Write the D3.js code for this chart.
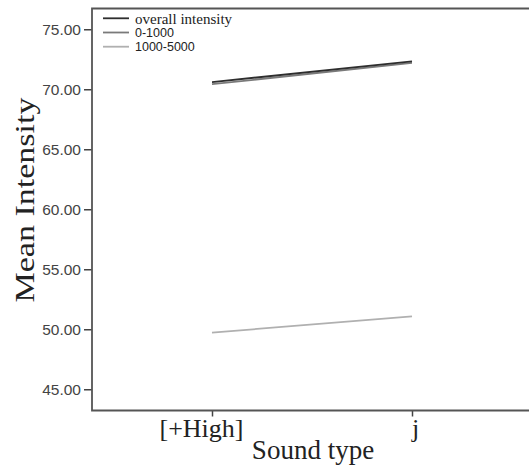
<!DOCTYPE html>
<html>
<head>
<meta charset="utf-8">
<script src="https://cdn.jsdelivr.net/npm/d3@7"></script>
<style>
  body { margin: 0; background: #fff; }
</style>
</head>
<body>
<div id="chart"></div>
<script>
// data
const soundTypes = ["[+High]", "j"];
const seriesNames = ["overall intensity", "0-1000", "1000-5000"];
const overallIntensity = [70.6, 72.32];
const band0to1000 = [70.42, 72.19];
const band1000to5000 = [49.72, 51.08];
const yTicks = [45, 50, 55, 60, 65, 70, 75];

function renderChart() {
  const width = 530, height = 467;
  const left = 92, top = 8.5, right = 529, bottom = 410.5;

  const svg = d3.select("#chart")
    .append("svg")
    .attr("width", width)
    .attr("height", height);

  // scales
  const x = d3.scalePoint()
    .domain(soundTypes)
    .range([212, 412]);

  const y = d3.scaleLinear()
    .domain([43.23, 76.73])
    .range([bottom, top]);

  const series = [
    { name: seriesNames[0], values: overallIntensity, color: "#2e2e2e", font: "Liberation Serif", size: 15 },
    { name: seriesNames[1], values: band0to1000, color: "#7a7a7a", font: "Liberation Sans", size: 12.5 },
    { name: seriesNames[2], values: band1000to5000, color: "#b0b0b0", font: "Liberation Sans", size: 12.5 }
  ];

  // lines (draw lighter first so dark sits on top)
  const line = d3.line()
    .x((d, i) => x(soundTypes[i]))
    .y(d => y(d));

  svg.selectAll(".series")
    .data(series.slice().reverse())
    .enter().append("path")
    .attr("class", "series")
    .attr("d", d => line(d.values))
    .attr("fill", "none")
    .attr("stroke", d => d.color)
    .attr("stroke-width", 1.8);

  // y axis
  const yAxis = svg.append("g")
    .attr("transform", `translate(${left}, 0)`)
    .call(d3.axisLeft(y).tickValues(yTicks).tickFormat(d3.format(".2f")).tickSize(8).tickPadding(3));
  yAxis.select(".domain").remove();
  yAxis.selectAll(".tick line").attr("stroke", "#444").attr("stroke-width", 1.5);
  yAxis.selectAll("text")
    .style("font-family", "Liberation Sans, Arial, sans-serif")
    .style("font-size", "15.5px")
    .attr("fill", "#444");

  // x axis
  const xAxis = svg.append("g")
    .attr("transform", `translate(0, ${bottom})`)
    .call(d3.axisBottom(x).tickSize(6).tickPadding(2));
  xAxis.select(".domain").remove();
  xAxis.selectAll(".tick line").attr("stroke", "#444").attr("stroke-width", 1.5);
  xAxis.selectAll("text")
    .attr("dx", (d, i) => i === 0 ? -11 : 3)
    .style("font-family", "Liberation Serif, Times New Roman, serif")
    .style("font-size", "26px")
    .attr("fill", "#222");

  // frame
  svg.append("path")
    .attr("d", `M${right},${top}H${left}V${bottom}H${right}`)
    .attr("fill", "none")
    .attr("stroke", "#555")
    .attr("stroke-width", 1.8);

  // legend
  const legend = svg.selectAll(".legend")
    .data(series)
    .enter().append("g")
    .attr("class", "legend")
    .attr("transform", (d, i) => `translate(103, ${18.3 + i * 14.2})`);

  legend.append("line")
    .attr("x1", 0).attr("x2", 26)
    .attr("stroke", d => d.color)
    .attr("stroke-width", 1.8);

  legend.append("text")
    .attr("x", 32)
    .attr("dy", "0.35em")
    .style("font-family", d => d.font)
    .style("font-size", d => d.size + "px")
    .attr("fill", "#222")
    .text(d => d.name);

  // axis titles
  svg.append("text")
    .attr("x", 313)
    .attr("y", 459)
    .attr("text-anchor", "middle")
    .style("font-family", "Liberation Serif, Times New Roman, serif")
    .style("font-size", "27px")
    .attr("fill", "#222")
    .text("Sound type");

  svg.append("text")
    .attr("transform", "translate(34, 200) rotate(-90)")
    .attr("text-anchor", "middle")
    .attr("textLength", 205)
    .attr("lengthAdjust", "spacingAndGlyphs")
    .style("font-family", "Liberation Serif, Times New Roman, serif")
    .style("font-size", "27px")
    .attr("fill", "#222")
    .text("Mean Intensity");
}

document.addEventListener("DOMContentLoaded", renderChart);
</script>
</body>
</html>
